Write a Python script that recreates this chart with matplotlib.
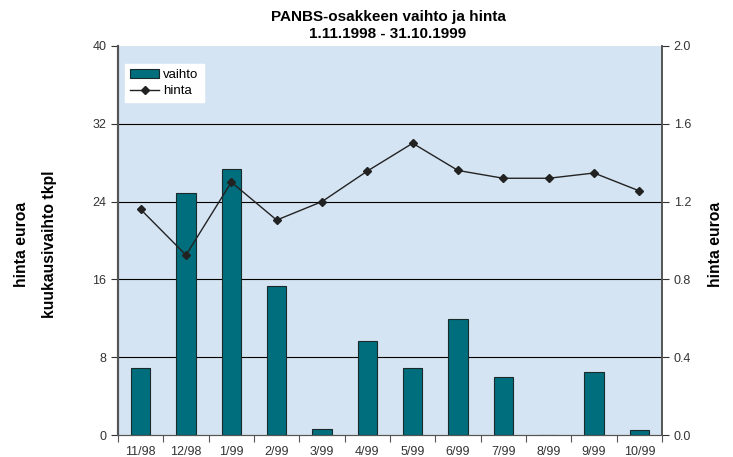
import matplotlib
matplotlib.use("Agg")
import matplotlib.pyplot as plt
import numpy as np

months = ["11/98", "12/98", "1/99", "2/99", "3/99", "4/99", "5/99", "6/99", "7/99", "8/99", "9/99", "10/99"]
vaihto = [6.9, 24.9, 27.4, 15.3, 0.6, 9.7, 6.9, 11.9, 6.0, 0.0, 6.5, 0.5]
hinta = [1.16, 0.925, 1.30, 1.105, 1.20, 1.357, 1.50, 1.36, 1.32, 1.32, 1.347, 1.255]
left_ticks = [0, 8, 16, 24, 32, 40]
right_ticks = [0.0, 0.4, 0.8, 1.2, 1.6, 2.0]

plt.rcParams['font.family'] = ['Liberation Sans', 'DejaVu Sans']

fig = plt.figure(figsize=(7.33, 4.57), dpi=100)
ax = fig.add_axes([118/733, 1-435/457, (662-118)/733, (435-46)/457])
ax.set_facecolor("#d5e4f3")
x = np.arange(len(months))
ax.bar(x, vaihto, width=0.42, color="#006e7c", edgecolor="#1a2a2a", linewidth=0.8, label="vaihto", zorder=3)
ax.set_ylim(0, 40)
ax.set_xlim(-0.5, len(months)-0.5)
ax.set_yticks(left_ticks)
ax.set_yticklabels([str(t) for t in left_ticks])
for t in left_ticks[1:-1]:
    ax.axhline(t, color="black", linewidth=0.8, zorder=1)

ax2 = ax.twinx()
ax2.plot(x, hinta, color="#222222", linewidth=1.0, marker="D", markersize=4, label="hinta", zorder=4)
ax2.set_ylim(0, 2.0)
ax2.set_yticks(right_ticks)
ax2.set_yticklabels([f"{t:.1f}" for t in right_ticks])

ax.set_xticks(np.arange(-0.5, len(months)+0.5, 1))
ax.set_xticklabels([])
ax.set_xticks(x, minor=True)
ax.set_xticklabels(months, minor=True)
ax.tick_params(axis="x", which="minor", length=0, pad=8, labelsize=9, labelcolor="#333333")
ax.tick_params(axis="x", which="major", length=5, direction="out", color="#555555")
ax.tick_params(axis="y", length=5, labelsize=9, labelcolor="#333333", color="#333333")
ax2.tick_params(axis="y", length=5, labelsize=9, labelcolor="#333333", color="#333333")

for a in (ax, ax2):
    a.spines["top"].set_visible(False)
    a.spines["left"].set_color("#555555")
    a.spines["right"].set_color("#555555")
    a.spines["bottom"].set_color("#555555")
    a.spines["left"].set_linewidth(1.5)
    a.spines["right"].set_linewidth(1.2)

fig.text(388/733, 1-25.5/457, "PANBS-osakkeen vaihto ja hinta\n1.11.1998 - 31.10.1999",
         ha="center", va="center", fontsize=11, fontweight="bold", linespacing=1.2)

yc = 1 - 244/457
fig.text(22/733, yc, "hinta euroa", rotation=90, ha="center", va="center", fontsize=11.3, fontweight="bold")
fig.text(50/733, yc, "kuukausivaihto tkpl", rotation=90, ha="center", va="center", fontsize=11.3, fontweight="bold")
fig.text(715/733, yc, "hinta euroa", rotation=90, ha="center", va="center", fontsize=11.3, fontweight="bold")

h1, l1 = ax.get_legend_handles_labels()
h2, l2 = ax2.get_legend_handles_labels()
leg = ax2.legend(h1+h2, l1+l2, loc="upper left", bbox_to_anchor=(0.013, 0.955), frameon=True,
                 fancybox=False, framealpha=1, edgecolor="white", fontsize=9.5, handlelength=2.2,
                 borderpad=0.4, labelspacing=0.3, handletextpad=0.3, borderaxespad=0)

fig.savefig("out.png", dpi=100)
